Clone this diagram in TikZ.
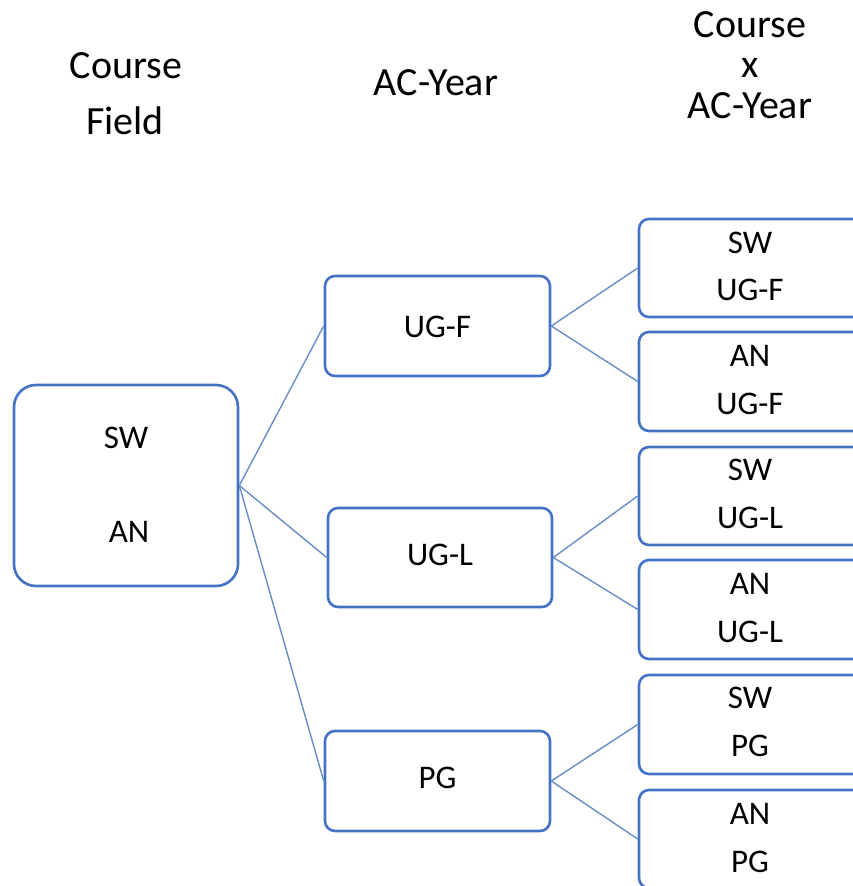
\documentclass[tikz,border=0pt]{standalone}
\usepackage{fontspec}
\setmainfont{Carlito}
\definecolor{boxblue}{HTML}{4472C4}
\definecolor{linkblue}{HTML}{6A8CC8}
\begin{document}
\begin{tikzpicture}[x=1pt,y=-1pt,
  box/.style={draw=boxblue, line width=2.6pt, fill=white, rounded corners=#1, inner sep=0pt},
  box/.default=10pt,
  head/.style={font=\fontsize{40}{40}\selectfont, anchor=base, inner sep=0pt},
  lbl/.style={font=\fontsize{33}{33}\selectfont, anchor=base, inner sep=0pt},
  link/.style={draw=linkblue, line width=1.4pt}]
\useasboundingbox (0,0) rectangle (853,886);

% column headings
\node[head] (h1a) at (126,78) {Course};
\node[head] (h1b) at (125,134) {Field};
\node[head] (h2)  at (436,95) {AC-Year};
\node[head] (h3a) at (750,37) {Course};
\node[head] (h3b) at (750,77) {x};
\node[head] (h3c) at (750,118) {AC-Year};

% course field
\node[box=22pt, minimum width=224pt, minimum height=201pt] (root) at (126,485.5) {};
\node[lbl] (rsw) at (126,448.6) {SW};
\node[lbl] (ran) at (129,542.6) {AN};

% academic years
\node[box, minimum width=225pt, minimum height=100pt] (ugf) at (437.5,326) {};
\node[lbl] (ugft) at (437.5,337.6) {UG-F};
\node[box, minimum width=224pt, minimum height=99pt] (ugl) at (440,557.5) {};
\node[lbl] (uglt) at (440,565.6) {UG-L};
\node[box, minimum width=225pt, minimum height=100pt] (pg) at (437.5,781) {};
\node[lbl] (pgt) at (437.5,788.6) {PG};

% course x academic year
\node[box, minimum width=240pt, minimum height=98pt] (c1) at (759,268) {};
\node[box, minimum width=240pt, minimum height=99pt] (c2) at (759,381.5) {};
\node[box, minimum width=240pt, minimum height=98pt] (c3) at (759,496) {};
\node[box, minimum width=240pt, minimum height=99pt] (c4) at (759,609.5) {};
\node[box, minimum width=240pt, minimum height=99pt] (c5) at (759,724.5) {};
\node[box, minimum width=240pt, minimum height=98pt] (c6) at (759,839) {};

\node[lbl] (c1a) at (750,253.6) {SW};  \node[lbl] (c1b) at (750,300.6) {UG-F};
\node[lbl] (c2a) at (750,366.6) {AN};  \node[lbl] (c2b) at (750,414.6) {UG-F};
\node[lbl] (c3a) at (750,480.6) {SW};  \node[lbl] (c3b) at (750,528.6) {UG-L};
\node[lbl] (c4a) at (750,594.6) {AN};  \node[lbl] (c4b) at (750,642.6) {UG-L};
\node[lbl] (c5a) at (750,708.6) {SW};  \node[lbl] (c5b) at (750,756.6) {PG};
\node[lbl] (c6a) at (750,824.6) {AN};  \node[lbl] (c6b) at (750,872.6) {PG};

% connectors
\draw[link] (root.east) -- (ugf.west);
\draw[link] (root.east) -- (ugl.west);
\draw[link] (root.east) -- (pg.west);
\draw[link] (ugf.east) -- (c1.west);
\draw[link] (ugf.east) -- (c2.west);
\draw[link] (ugl.east) -- (c3.west);
\draw[link] (ugl.east) -- (c4.west);
\draw[link] (pg.east) -- (c5.west);
\draw[link] (pg.east) -- (c6.west);
\end{tikzpicture}
\end{document}
